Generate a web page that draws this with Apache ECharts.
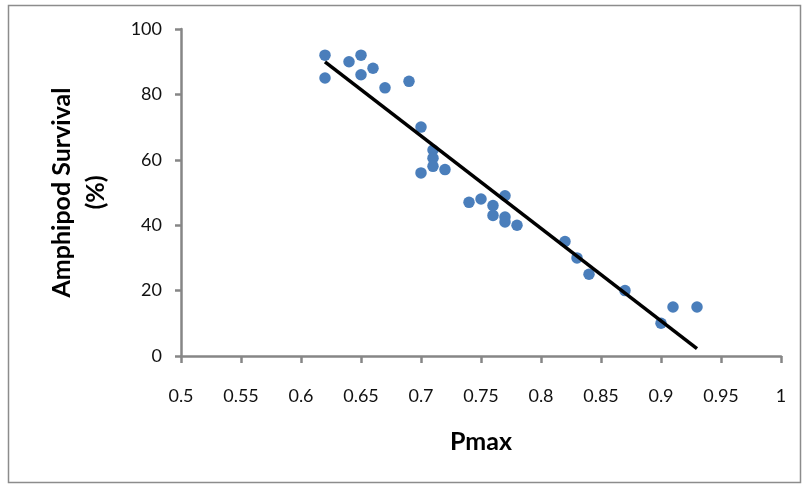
<!DOCTYPE html>
<html>
<head>
<meta charset="utf-8">
<script src="https://cdn.jsdelivr.net/npm/echarts@6/dist/echarts.min.js"></script>
<style>html,body{margin:0;padding:0;background:#fff}#c{width:804px;height:486px}</style>
</head>
<body>
<div id="c"></div>
<script>
var pmax = [0.62,0.62,0.64,0.65,0.65,0.66,0.67,0.69,0.70,0.71,0.71,0.71,0.70,0.72,0.74,0.75,0.76,0.76,0.77,0.77,0.77,0.78,0.82,0.83,0.84,0.87,0.90,0.91,0.93];
var survival = [92,85,90,92,86,88,82,84,70,63,60.5,58,56,57,47,48,46,43,49,42.5,41,40,35,30,25,20,10,15,15];
var xTicks = [0.5,0.55,0.6,0.65,0.7,0.75,0.8,0.85,0.9,0.95,1];
var yTicks = [0,20,40,60,80,100];

var pts = pmax.map(function(x,i){return [x, survival[i]];});
// least squares trendline
var n = pmax.length, sx=0, sy=0, sxx=0, sxy=0;
for (var i=0;i<n;i++){sx+=pmax[i];sy+=survival[i];sxx+=pmax[i]*pmax[i];sxy+=pmax[i]*survival[i];}
var b = (n*sxy - sx*sy)/(n*sxx - sx*sx), a = (sy - b*sx)/n;
var x0 = Math.min.apply(null,pmax), x1 = Math.max.apply(null,pmax);
var trend = [[x0, a+b*x0],[x1, a+b*x1]];

var font = 'Lato';
var chart = echarts.init(document.getElementById('c'), null, {renderer:'canvas'});
chart.setOption({
  animation:false,
  backgroundColor:'#fff',
  graphic:[{type:'rect', shape:{x:8.5,y:5.5,width:792,height:477}, style:{fill:'none', stroke:'#8c8c8c', lineWidth:1.5}, silent:true}],
  grid:{left:181, right:23, top:29, bottom:130, containLabel:false},
  xAxis:{type:'value', min:xTicks[0], max:xTicks[xTicks.length-1], interval:0.05,
    name:'Pmax', nameLocation:'middle', nameGap:73,
    nameTextStyle:{fontFamily:font, fontWeight:'bold', fontSize:25, color:'#000'},
    axisLine:{show:true, lineStyle:{color:'#868686', width:2.5}},
    axisTick:{show:true, length:7, lineStyle:{color:'#868686', width:2.5}},
    splitLine:{show:false},
    axisLabel:{fontFamily:font, fontSize:18, color:'#111', margin:31,
      formatter:function(v){return String(+v.toFixed(2));}}
  },
  yAxis:{type:'value', min:yTicks[0], max:yTicks[yTicks.length-1], interval:20,
    name:'Amphipod Survival\n(%)', nameLocation:'middle', nameGap:68, nameRotate:90,
    nameTextStyle:{fontFamily:font, fontWeight:'bold', fontSize:25, color:'#000', lineHeight:34, align:'center'},
    axisLine:{show:true, lineStyle:{color:'#868686', width:2.5}},
    axisTick:{show:true, length:6, lineStyle:{color:'#868686', width:2.5}},
    splitLine:{show:false},
    axisLabel:{fontFamily:font, fontSize:18, color:'#111', margin:19}
  },
  series:[
    {type:'scatter', data:pts, symbol:'circle', symbolSize:11.5, itemStyle:{color:'#4A7EBB', opacity:1}, z:3},
    {type:'line', data:trend, symbol:'none', lineStyle:{color:'#000', width:3.5}, z:4}
  ]
});
</script>
</body>
</html>
